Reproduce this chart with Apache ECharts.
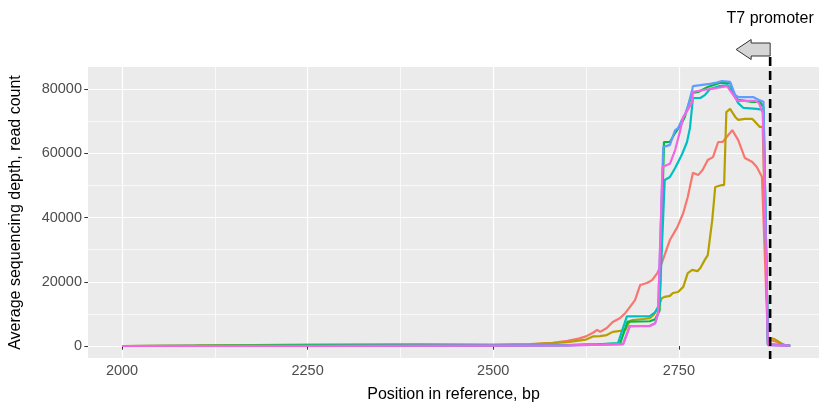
<!DOCTYPE html>
<html>
<head>
<meta charset="utf-8">
<script src="https://cdn.jsdelivr.net/npm/echarts@6/dist/echarts.min.js"></script>
<style>
  html, body { margin: 0; padding: 0; background: #ffffff; }
  #chart { width: 819px; height: 403px; }
</style>
</head>
<body>
<div id="chart"></div>
<script>
// Coverage profiles: [position (bp), average read count]
const sample1 = [[2000,0],[2100,100],[2250,300],[2400,400],[2500,300],[2550,500],[2580,1000],[2600,1600],[2615,2300],[2625,3000],[2635,4200],[2640,5000],[2644,4400],[2653,5600],[2661,7500],[2671,8700],[2678,10300],[2684,12100],[2691,14300],[2698,19000],[2707,19600],[2714,20500],[2721,22700],[2727,25800],[2738,33000],[2748,37000],[2756,41400],[2762,46400],[2769,53900],[2776,53200],[2782,54800],[2789,57900],[2796,58800],[2803,63500],[2809,63500],[2822,67200],[2830,64100],[2839,58500],[2849,57300],[2855,55700],[2862,52600],[2870,1800],[2875,1700],[2880,1400],[2885,900],[2890,400],[2900,0]];
const sample2 = [[2000,0],[2100,100],[2250,400],[2400,500],[2500,400],[2550,600],[2580,900],[2600,1200],[2615,1700],[2625,2000],[2635,3000],[2644,3100],[2653,3400],[2661,4400],[2671,4700],[2678,5000],[2684,7800],[2688,8100],[2702,8400],[2711,8700],[2716,9700],[2722,11800],[2727,14900],[2731,15300],[2738,15600],[2742,16500],[2749,16800],[2756,18400],[2762,22700],[2768,23700],[2775,23300],[2779,24300],[2785,26800],[2789,28300],[2795,39200],[2799,49500],[2808,50100],[2811,50100],[2814,72800],[2819,73800],[2826,71300],[2830,70400],[2839,70700],[2849,70700],[2853,69700],[2859,68200],[2863,68200],[2870,2500],[2875,2400],[2880,2000],[2885,1300],[2890,600],[2895,100],[2900,0]];
const sample3 = [[2000,0],[2250,100],[2500,100],[2600,300],[2640,500],[2671,800],[2681,7600],[2711,7700],[2718,8300],[2724,11000],[2730,63500],[2738,63500],[2745,66300],[2754,69400],[2758,71300],[2768,78800],[2776,79100],[2789,80600],[2805,81900],[2819,81900],[2826,77500],[2830,76600],[2849,76000],[2859,76000],[2864,74400],[2870,400],[2900,100]];
const sample4 = [[2000,0],[2250,100],[2500,100],[2600,300],[2640,500],[2668,800],[2680,9200],[2711,9300],[2718,10500],[2724,13000],[2731,51700],[2738,52600],[2745,55400],[2754,59500],[2761,63500],[2765,67900],[2769,77200],[2779,77200],[2785,78100],[2792,80000],[2805,80900],[2816,81200],[2823,78800],[2830,75600],[2837,74100],[2855,73800],[2864,73500],[2870,600],[2900,100]];
const sample5 = [[2000,0],[2250,0],[2500,100],[2600,200],[2650,400],[2675,600],[2684,6200],[2711,6300],[2718,7000],[2722,10000],[2729,61900],[2738,62600],[2745,67200],[2749,67800],[2754,70400],[2758,71900],[2762,74400],[2768,79700],[2769,80900],[2779,81200],[2792,81600],[2801,82000],[2808,82500],[2819,82200],[2826,78100],[2830,77500],[2850,77500],[2858,76600],[2864,76000],[2870,300],[2900,100]];
const sample6 = [[2000,0],[2250,0],[2500,100],[2600,200],[2650,400],[2675,600],[2684,6200],[2711,6200],[2718,7100],[2722,10200],[2728,55700],[2738,56700],[2745,61000],[2752,67200],[2756,71300],[2762,73500],[2768,76000],[2769,79100],[2783,79700],[2801,80300],[2815,80900],[2816,81200],[2826,77200],[2830,76300],[2853,76300],[2858,75600],[2863,72500],[2870,300],[2900,100]];

const profiles = [sample1, sample2, sample3, sample4, sample5, sample6];
const lineColors = ['#F8766D', '#B79F00', '#00BA38', '#00BFC4', '#619CFF', '#F564E3'];

// Axis ticks
const xMajorTicks = [2000, 2250, 2500, 2750];
const xMinorTicks = [2125, 2375, 2625, 2875];
const yMajorTicks = [0, 20000, 40000, 60000, 80000];
const yMinorTicks = [10000, 30000, 50000, 70000];

// Promoter annotation
const promoterPos = [2873];
const promoterLabel = 'T7 promoter';

const xRange = [1954.2, 2938.8];
const yRange = [-3735, 86850];

const FONT = "'Liberation Sans', Arial, Helvetica, sans-serif";

const chart = echarts.init(document.getElementById('chart'), null, { renderer: 'canvas' });

const lineSeries = profiles.map((d, i) => ({
  type: 'line',
  data: d,
  xAxisIndex: 0,
  yAxisIndex: 0,
  showSymbol: false,
  symbol: 'none',
  smooth: false,
  lineStyle: { color: lineColors[i], width: 2.2 },
  itemStyle: { color: lineColors[i] },
  z: 3 + i,
  silent: true
}));

// Dashed marker at the promoter, with a leftward block arrow and its label above the panel
const annotationSeries = {
  type: 'custom',
  xAxisIndex: 0,
  yAxisIndex: 0,
  clip: false,
  silent: true,
  z: 20,
  data: promoterPos.map(p => [p, 0]),
  renderItem: function (params, api) {
    const x = api.coord([api.value(0), 0])[0];
    const cs = params.coordSys;
    const top = cs.y;
    const bottom = cs.y + cs.height;
    const cy = top - 17.5;
    return {
      type: 'group',
      children: [
        {
          type: 'line',
          shape: { x1: x, y1: top - 10, x2: x, y2: bottom + 1 },
          style: { stroke: '#000000', lineWidth: 2.6, lineDash: [9, 5] }
        },
        {
          type: 'polygon',
          shape: {
            points: [
              [x, cy - 6.5], [x - 19, cy - 6.5], [x - 19, cy - 10],
              [x - 34, cy], [x - 19, cy + 10], [x - 19, cy + 6.5], [x, cy + 6.5]
            ]
          },
          style: { fill: '#D6D6D6', stroke: '#333333', lineWidth: 1 }
        },
        {
          type: 'text',
          style: {
            text: promoterLabel,
            x: x,
            y: top - 48,
            align: 'center',
            verticalAlign: 'middle',
            font: '16px ' + FONT,
            fill: '#000000'
          }
        }
      ]
    };
  }
};

const option = {
  animation: false,
  backgroundColor: '#ffffff',
  grid: {
    left: 88,
    right: 0,
    top: 67,
    bottom: 45,
    show: true,
    backgroundColor: '#EBEBEB',
    borderWidth: 0,
    containLabel: false,
    outerBoundsMode: 'none'
  },
  xAxis: [
    {
      type: 'value',
      min: xRange[0],
      max: xRange[1],
      position: 'bottom',
      name: 'Position in reference, bp',
      nameLocation: 'middle',
      nameGap: 29,
      nameTextStyle: { color: '#000000', fontSize: 16, fontFamily: FONT },
      axisLine: { show: false },
      axisTick: { show: true, length: 3.7, lineStyle: { color: '#333333', width: 1 }, customValues: xMajorTicks },
      axisLabel: {
        show: true, color: '#4D4D4D', fontSize: 14.5, fontFamily: FONT, margin: 5,
        customValues: xMajorTicks, formatter: v => String(v)
      },
      splitLine: { show: true, lineStyle: { color: '#FFFFFF', width: 1.2 } },
      z: 2
    },
    {
      type: 'value',
      min: xRange[0],
      max: xRange[1],
      position: 'top',
      axisLine: { show: false },
      axisTick: { show: false, customValues: xMinorTicks },
      axisLabel: { show: false, customValues: xMinorTicks },
      splitLine: { show: true, lineStyle: { color: '#FFFFFF', width: 0.7 } },
      z: 1
    }
  ],
  yAxis: [
    {
      type: 'value',
      min: yRange[0],
      max: yRange[1],
      position: 'left',
      name: 'Average sequencing depth, read count',
      nameLocation: 'middle',
      nameGap: 64,
      nameTextStyle: { color: '#000000', fontSize: 16, fontFamily: FONT },
      axisLine: { show: false },
      axisTick: { show: true, length: 3.7, lineStyle: { color: '#333333', width: 1 }, customValues: yMajorTicks },
      axisLabel: {
        show: true, color: '#4D4D4D', fontSize: 14.5, fontFamily: FONT, margin: 6,
        customValues: yMajorTicks, formatter: v => String(v)
      },
      splitLine: { show: true, lineStyle: { color: '#FFFFFF', width: 1.2 } },
      z: 2
    },
    {
      type: 'value',
      min: yRange[0],
      max: yRange[1],
      position: 'right',
      axisLine: { show: false },
      axisTick: { show: false, customValues: yMinorTicks },
      axisLabel: { show: false, customValues: yMinorTicks },
      splitLine: { show: true, lineStyle: { color: '#FFFFFF', width: 0.7 } },
      z: 1
    }
  ],
  series: lineSeries.concat([annotationSeries])
};

chart.setOption(option);
</script>
</body>
</html>
